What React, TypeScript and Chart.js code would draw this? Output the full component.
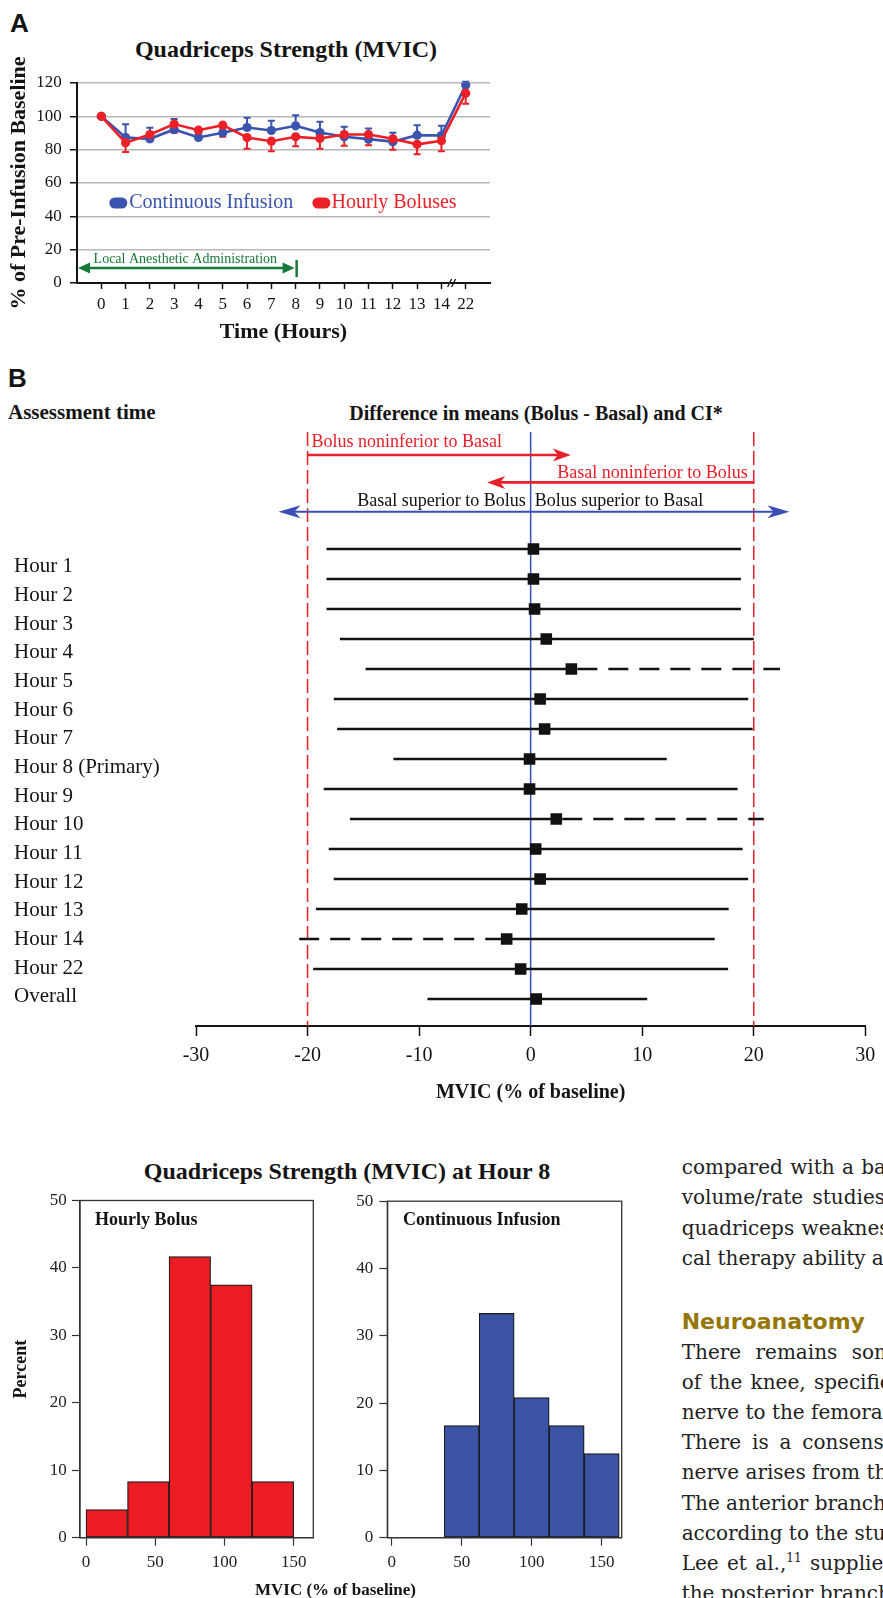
import React, { useEffect, useRef } from "react";
import { Chart, registerables } from "chart.js";

Chart.register(...registerables);

const SERIF = '"Liberation Serif", "Times New Roman", Times, serif';
const SANS = '"Liberation Sans", Arial, Helvetica, sans-serif';
const BODY_SERIF = '"DejaVu Serif", Georgia, serif';

const BLUE = "#3a53ad";
const RED = "#ec2127";
const GREEN = "#17783a";
const INK = "#141414";

// ---------- Panel A : Quadriceps Strength (MVIC) over time ----------
const hourLabels = ["0", "1", "2", "3", "4", "5", "6", "7", "8", "9", "10", "11", "12", "13", "14", "22"];
const continuousMean = [100, 87.3, 86.5, 92.1, 87.3, 90.1, 93.3, 91.5, 94.3, 90.3, 87.7, 86.3, 84.8, 88.7, 88.5, 118.8];
const continuousErr = [0, 7.9, 6.6, 6.3, 2.5, 3, 5.9, 5.9, 6.3, 6.5, 6, 6.4, 5.3, 6, 5.8, 2];
const bolusMean = [100, 84.2, 89.1, 95.4, 91.7, 94.7, 87.3, 85.1, 87.7, 86.7, 89.1, 89.1, 86.5, 83.2, 85.3, 113.9];
const bolusErr = [0, 5.6, 4, 5.3, 5, 7, 6.7, 6.1, 5.7, 6.1, 6.7, 6.5, 6.5, 6, 6.3, 6.4];
const panelAYTicks = [0, 20, 40, 60, 80, 100, 120];

// ---------- Panel B : forest plot ----------
const assessmentLabels = [
  "Hour 1", "Hour 2", "Hour 3", "Hour 4", "Hour 5", "Hour 6", "Hour 7", "Hour 8 (Primary)",
  "Hour 9", "Hour 10", "Hour 11", "Hour 12", "Hour 13", "Hour 14", "Hour 22", "Overall",
];
const diffEstimate = [0.25, 0.25, 0.35, 1.4, 3.65, 0.85, 1.25, -0.1, -0.1, 2.3, 0.45, 0.85, -0.8, -2.15, -0.9, 0.5];
const ciLower = [-18.3, -18.3, -18.3, -17.1, -14.8, -17.65, -17.35, -12.3, -18.55, -16.2, -18.1, -17.65, -19.25, -20.75, -19.5, -9.25];
const ciUpper = [18.85, 18.85, 18.85, 20, 22.35, 19.5, 19.9, 12.2, 18.55, 20.9, 19, 19.5, 17.75, 16.5, 17.7, 10.45];
const dashedSegment = ["", "", "", "", "upper", "", "", "", "", "upper", "", "", "", "lower", "", ""];
const marginLimits = [-20, 20];
const forestTicks = [-30, -20, -10, 0, 10, 20, 30];

// ---------- Histograms at hour 8 ----------
const bolusBinCenters = [15, 45, 75, 105, 135];
const bolusPercent = [4.17, 8.33, 41.67, 37.5, 8.33];
const infusionBinCenters = [50, 75, 100, 125, 150];
const infusionPercent = [16.67, 33.33, 20.83, 16.67, 12.5];
const histXTicks = [0, 50, 100, 150];
const histYTicks = [0, 10, 20, 30, 40, 50];

// ---------- Body text ----------
const bodyBlock1 = ["compared with a baseline", "volume/rate studies", "quadriceps weakness", "cal therapy ability and"];
const bodyBlock2 = [
  "There remains some", "of the knee, specifically", "nerve to the femoral", "There is a consensus",
  "nerve arises from the", "The anterior branch", "according to the study", "Lee et al.,|11| supplies", "the posterior branch",
];

const offPlugins = { legend: { display: false }, tooltip: { enabled: false }, title: { display: false } };

function makePanelA(): any {
  const decor = {
    id: "panelADecor",
    beforeDatasetsDraw(chart: any) {
      const { ctx } = chart;
      const xs = chart.scales.x, ys = chart.scales.y;
      const sets = [
        { mean: continuousMean, err: continuousErr, dir: 1, color: BLUE },
        { mean: bolusMean, err: bolusErr, dir: -1, color: RED },
      ];
      ctx.save();
      sets.forEach((s) => {
        ctx.strokeStyle = s.color;
        ctx.lineWidth = 2;
        s.mean.forEach((m, i) => {
          if (!s.err[i]) return;
          const x = xs.getPixelForValue(i);
          const y0 = ys.getPixelForValue(m);
          const y1 = ys.getPixelForValue(m + s.dir * s.err[i]);
          ctx.beginPath();
          ctx.moveTo(x, y0);
          ctx.lineTo(x, y1);
          ctx.moveTo(x - 3.5, y1);
          ctx.lineTo(x + 3.5, y1);
          ctx.stroke();
        });
      });
      ctx.restore();
    },
    afterDraw(chart: any) {
      const { ctx } = chart;
      const xs = chart.scales.x, ys = chart.scales.y;
      const X = (v: number) => xs.getPixelForValue(v);
      const Y = (v: number) => ys.getPixelForValue(v);
      ctx.save();
      // legend
      const pill = (cx: number, cy: number, color: string) => {
        const w = 18, h = 11, r = 5.5;
        ctx.fillStyle = color;
        ctx.beginPath();
        ctx.moveTo(cx - w / 2 + r, cy - h / 2);
        ctx.lineTo(cx + w / 2 - r, cy - h / 2);
        ctx.arc(cx + w / 2 - r, cy, r, -Math.PI / 2, Math.PI / 2);
        ctx.lineTo(cx - w / 2 + r, cy + h / 2);
        ctx.arc(cx - w / 2 + r, cy, r, Math.PI / 2, (3 * Math.PI) / 2);
        ctx.closePath();
        ctx.fill();
      };
      const ly = Y(48);
      ctx.font = `20px ${SERIF}`;
      ctx.textBaseline = "middle";
      ctx.textAlign = "left";
      pill(X(0.7), ly, BLUE);
      ctx.fillStyle = BLUE;
      ctx.fillText("Continuous Infusion", X(1.15), ly);
      pill(X(9.06), ly, RED);
      ctx.fillStyle = RED;
      ctx.fillText("Hourly Boluses", X(9.48), ly);

      // local anesthetic administration arrow
      ctx.fillStyle = GREEN;
      ctx.strokeStyle = GREEN;
      ctx.font = `14px ${SERIF}`;
      ctx.textAlign = "center";
      ctx.fillText("Local Anesthetic Administration", X(3.46), Y(14.4));
      const ay = Y(9);
      const xl = X(-1) + 1, xr = X(8) - 1;
      ctx.lineWidth = 2.5;
      ctx.beginPath();
      ctx.moveTo(xl + 8, ay);
      ctx.lineTo(xr - 8, ay);
      ctx.stroke();
      const head = (x: number, d: number) => {
        ctx.beginPath();
        ctx.moveTo(x, ay);
        ctx.lineTo(x - d * 12, ay - 5.5);
        ctx.lineTo(x - d * 12, ay + 5.5);
        ctx.closePath();
        ctx.fill();
      };
      head(xl, -1);
      head(xr, 1);
      ctx.beginPath();
      ctx.moveTo(X(8) + 1, Y(3.6));
      ctx.lineTo(X(8) + 1, Y(13.8));
      ctx.stroke();

      // axis break
      const bx = X(14.46), by = Y(0);
      ctx.strokeStyle = INK;
      ctx.lineWidth = 1.3;
      ctx.beginPath();
      ctx.moveTo(bx - 5, by + 4);
      ctx.lineTo(bx - 1, by - 4);
      ctx.moveTo(bx - 1, by + 4);
      ctx.lineTo(bx + 3, by - 4);
      ctx.stroke();
      ctx.restore();
    },
  };
  const line = (data: number[], color: string, order: number, label: string) => ({
    label,
    data: data.map((y, i) => ({ x: i, y })),
    borderColor: color,
    backgroundColor: color,
    pointBackgroundColor: color,
    pointBorderColor: color,
    borderWidth: 2.6,
    pointRadius: 4.6,
    pointBorderWidth: 0,
    order,
  });
  return {
    type: "line",
    data: {
      datasets: [line(bolusMean, RED, 1, "Hourly Boluses"), line(continuousMean, BLUE, 2, "Continuous Infusion")],
    },
    options: {
      animation: false,
      responsive: false,
      devicePixelRatio: 1,
      layout: { padding: { top: 43, right: 10, left: 0, bottom: 0 } },
      plugins: offPlugins,
      scales: {
        x: {
          type: "linear",
          min: -1,
          max: 16,
          afterBuildTicks: (s: any) => {
            s.ticks = hourLabels.map((_, i) => ({ value: i }));
          },
          afterFit: (s: any) => {
            s.height = 67;
          },
          grid: { drawOnChartArea: false, tickLength: 6, tickColor: INK, tickWidth: 1.5 },
          border: { display: true, color: INK, width: 2 },
          ticks: {
            autoSkip: false,
            maxRotation: 0,
            padding: 5.8,
            color: INK,
            font: { family: SERIF, size: 17 },
            callback: (v: any) => hourLabels[v] ?? "",
          },
          title: {
            display: true,
            text: "Time (Hours)",
            color: INK,
            font: { family: SERIF, size: 22, weight: "bold" },
            padding: { top: 0, bottom: 4.8 },
          },
        },
        y: {
          min: 0,
          max: 120,
          afterBuildTicks: (s: any) => {
            s.ticks = panelAYTicks.map((v) => ({ value: v }));
          },
          afterFit: (s: any) => {
            s.width = 77;
          },
          grid: { color: "#b8b8b8", lineWidth: 1.5, tickLength: 7, tickColor: INK, tickWidth: 1.5 },
          border: { color: INK, width: 2 },
          ticks: { padding: 8.3, color: INK, font: { family: SERIF, size: 17 } },
          title: {
            display: true,
            text: "% of Pre-Infusion Baseline",
            color: INK,
            font: { family: SERIF, size: 22, weight: "bold" },
            padding: { top: 5.8, bottom: 0 },
          },
        },
      },
    },
    plugins: [decor],
  };
}

function makeForest(): any {
  const decor = {
    id: "forestDecor",
    beforeDatasetsDraw(chart: any) {
      const { ctx, chartArea: ca } = chart;
      const xs = chart.scales.x, ys = chart.scales.y;
      const X = (v: number) => xs.getPixelForValue(v);
      const Y = (v: number) => ys.getPixelForValue(v);
      ctx.save();
      // non-inferiority margins
      ctx.strokeStyle = "#e8202a";
      ctx.lineWidth = 1.5;
      ctx.setLineDash([14, 5]);
      marginLimits.forEach((m) => {
        ctx.beginPath();
        ctx.moveTo(X(m), ca.top);
        ctx.lineTo(X(m), ca.bottom);
        ctx.stroke();
      });
      ctx.setLineDash([]);
      // zero line
      ctx.strokeStyle = "#3a4fb5";
      ctx.lineWidth = 1.5;
      ctx.beginPath();
      ctx.moveTo(X(0), ca.top);
      ctx.lineTo(X(0), ca.bottom);
      ctx.stroke();

      // CI lines
      ctx.strokeStyle = "#111";
      ctx.lineWidth = 2.5;
      ciLower.forEach((lo, i) => {
        const y = Y(i + 1);
        const xl = X(lo), xu = X(ciUpper[i]), xe = X(diffEstimate[i]);
        const seg = (a: number, b: number, dashed: boolean) => {
          ctx.setLineDash(dashed ? [20, 11] : []);
          ctx.beginPath();
          ctx.moveTo(a, y);
          ctx.lineTo(b, y);
          ctx.stroke();
        };
        seg(xl, xe, dashedSegment[i] === "lower");
        seg(xe + (dashedSegment[i] === "upper" ? 6 : 0), xu, dashedSegment[i] === "upper");
      });
      ctx.setLineDash([]);

      // arrows
      const head = (x: number, y: number, d: number, len: number, half: number) => {
        ctx.beginPath();
        ctx.moveTo(x, y);
        ctx.lineTo(x - d * len, y - half);
        ctx.lineTo(x - d * len * 0.72, y);
        ctx.lineTo(x - d * len, y + half);
        ctx.closePath();
        ctx.fill();
      };
      // Bolus noninferior to Basal
      ctx.strokeStyle = "#e8202a";
      ctx.fillStyle = "#e8202a";
      ctx.lineWidth = 2.6;
      let y = Y(-2.133);
      ctx.beginPath();
      ctx.moveTo(X(-20), y);
      ctx.lineTo(X(3.6) - 10, y);
      ctx.stroke();
      head(X(3.6), y, 1, 18, 6.5);
      // Basal noninferior to Bolus
      y = Y(-1.22);
      ctx.beginPath();
      ctx.moveTo(X(20), y);
      ctx.lineTo(X(-3.9) + 10, y);
      ctx.stroke();
      head(X(-3.9), y, -1, 18, 6.5);
      // superiority double arrow
      ctx.strokeStyle = "#3a4fb5";
      ctx.fillStyle = "#3a4fb5";
      ctx.lineWidth = 2;
      y = Y(-0.243);
      ctx.beginPath();
      ctx.moveTo(X(-22.6) + 12, y);
      ctx.lineTo(X(23.2) - 12, y);
      ctx.stroke();
      head(X(-22.6), y, -1, 22, 6.5);
      head(X(23.2), y, 1, 22, 6.5);

      // texts
      ctx.font = `18px ${SERIF}`;
      ctx.textBaseline = "middle";
      ctx.fillStyle = "#e8202a";
      ctx.textAlign = "left";
      ctx.fillText("Bolus noninferior to Basal", X(-20) + 4, Y(-2.57));
      ctx.textAlign = "right";
      ctx.fillText("Basal noninferior to Bolus", X(20) - 6, Y(-1.54));
      ctx.fillStyle = "#111";
      ctx.fillText("Basal superior to Bolus", X(0) - 5, Y(-0.58));
      ctx.textAlign = "left";
      ctx.fillText("Bolus superior to Basal", X(0) + 4, Y(-0.58));
      ctx.restore();
    },
  };
  return {
    type: "scatter",
    data: {
      datasets: [
        {
          label: "Difference in means",
          data: diffEstimate.map((x, i) => ({ x, y: i + 1 })),
          pointStyle: "rect",
          pointRadius: 8.2,
          backgroundColor: "#111",
          borderColor: "#111",
          borderWidth: 0,
        },
      ],
    },
    options: {
      animation: false,
      responsive: false,
      devicePixelRatio: 1,
      layout: { padding: { left: 196, right: 11.3, top: 12, bottom: 0 } },
      plugins: offPlugins,
      scales: {
        x: {
          type: "linear",
          min: -30,
          max: 30,
          afterBuildTicks: (s: any) => {
            s.ticks = forestTicks.map((v) => ({ value: v }));
          },
          afterFit: (s: any) => {
            s.height = 84;
          },
          grid: { drawOnChartArea: false, tickLength: 10, tickColor: INK, tickWidth: 1.5 },
          border: { color: INK, width: 2 },
          ticks: {
            autoSkip: false,
            maxRotation: 0,
            padding: 7.7,
            color: INK,
            font: { family: SERIF, size: 20 },
            callback: (v: any) => String(v),
          },
          title: {
            display: true,
            text: "MVIC (% of baseline)",
            color: INK,
            font: { family: SERIF, size: 20, weight: "bold" },
            padding: { top: 0, bottom: 5 },
          },
        },
        y: { type: "linear", display: false, reverse: true, min: -2.9, max: 16.9 },
      },
    },
    plugins: [decor],
  };
}

function makeHist(
  centers: number[],
  values: number[],
  color: string,
  xMin: number,
  xMax: number,
  padRight: number,
  yWidth: number,
  yTickPad: number,
  showYTitle: boolean
): any {
  const frame = {
    id: "histFrame",
    afterDraw(chart: any) {
      const { ctx, chartArea: ca } = chart;
      ctx.save();
      ctx.strokeStyle = "#333";
      ctx.lineWidth = 1.3;
      ctx.strokeRect(ca.left, ca.top, ca.right - ca.left, ca.bottom - ca.top);
      ctx.restore();
    },
  };
  return {
    type: "bar",
    data: {
      datasets: [
        {
          label: "Percent",
          data: centers.map((x, i) => ({ x, y: values[i] })),
          backgroundColor: color,
          borderColor: "#1a1a1a",
          borderWidth: 1.2,
          borderSkipped: false,
          barPercentage: 1,
          categoryPercentage: 1,
        },
      ],
    },
    options: {
      animation: false,
      responsive: false,
      devicePixelRatio: 1,
      layout: { padding: { top: 15, right: padRight, left: 0, bottom: 0 } },
      plugins: offPlugins,
      scales: {
        x: {
          type: "linear",
          min: xMin,
          max: xMax,
          offset: false,
          afterBuildTicks: (s: any) => {
            s.ticks = histXTicks.map((v) => ({ value: v }));
          },
          afterFit: (s: any) => {
            s.height = 60.3;
          },
          grid: { offset: false, drawOnChartArea: false, tickLength: 8, tickColor: "#333", tickWidth: 1.2 },
          border: { color: "#333", width: 1.3 },
          ticks: { autoSkip: false, maxRotation: 0, padding: 7, color: "#222", font: { family: SERIF, size: 17 } },
        },
        y: {
          min: 0,
          max: 50,
          afterBuildTicks: (s: any) => {
            s.ticks = histYTicks.map((v) => ({ value: v }));
          },
          afterFit: (s: any) => {
            s.width = yWidth;
          },
          grid: { drawOnChartArea: false, tickLength: 8, tickColor: "#333", tickWidth: 1.2 },
          border: { color: "#333", width: 1.3 },
          ticks: { padding: yTickPad, color: "#222", font: { family: SERIF, size: 17 } },
          title: {
            display: showYTitle,
            text: "Percent",
            color: INK,
            font: { family: SERIF, size: 18, weight: "bold" },
            padding: { top: 11, bottom: 0 },
          },
        },
      },
    },
    plugins: [frame],
  };
}

const makeHistBolus = () => makeHist(bolusBinCenters, bolusPercent, "#ec1c24", -4.34, 164.2, 6.7, 80, 5.3, true);
const makeHistInfusion = () => makeHist(infusionBinCenters, infusionPercent, "#3a53a4", -3.14, 164.3, 18.3, 67.3, 6, false);

function ChartCanvas(props: { left: number; top: number; width: number; height: number; make: () => any }) {
  const ref = useRef<HTMLCanvasElement | null>(null);
  const { left, top, width, height, make } = props;
  useEffect(() => {
    const chart = new Chart(ref.current as HTMLCanvasElement, make());
    return () => chart.destroy();
  }, [make]);
  return (
    <canvas
      ref={ref}
      width={width}
      height={height}
      style={{ position: "absolute", left, top, width, height, display: "block" }}
    />
  );
}

function Txt(props: {
  x: number;
  y: number;
  size: number;
  bold?: boolean;
  color?: string;
  family?: string;
  align?: "left" | "center" | "right";
  style?: any;
  children: any;
}) {
  const { x, y, size, bold, color, family, align, style, children } = props;
  const lh = size * 1.2;
  const st: any = {
    position: "absolute",
    top: y - lh / 2,
    fontSize: size,
    lineHeight: lh + "px",
    fontFamily: family || SERIF,
    fontWeight: bold ? "bold" : "normal",
    color: color || INK,
    whiteSpace: "nowrap",
    ...(style || {}),
  };
  if (align === "center") {
    st.left = x;
    st.transform = "translateX(-50%)";
  } else if (align === "right") {
    st.right = 883 - x;
  } else {
    st.left = x;
  }
  return <div style={st}>{children}</div>;
}

function BodyLine({ text, y, ws }: { text: string; y: number; ws: number }) {
  const parts = text.split("|");
  return (
    <Txt x={681.7} y={y} size={20} color="#222" family={BODY_SERIF} style={{ wordSpacing: ws }}>
      {parts.length === 3 ? (
        <>
          {parts[0]}
          <sup style={{ fontSize: 12, lineHeight: 0 }}>{parts[1]}</sup>
          {parts[2]}
        </>
      ) : (
        text
      )}
    </Txt>
  );
}

export default function App() {
  const block1Spacing = [1, 3, 1, 0];
  const block2Spacing = [8, 2, 0, 4.5, 0, 0, 0, 2, 0];
  return (
    <div
      style={{
        position: "absolute",
        left: 0,
        top: 0,
        width: 883,
        height: 1598,
        overflow: "hidden",
        background: "#fff",
      }}
    >
      {/* Panel A */}
      <Txt x={10} y={24} size={26} bold family={SANS}>A</Txt>
      <Txt x={286} y={49} size={24} bold align="center">Quadriceps Strength (MVIC)</Txt>
      <ChartCanvas left={0} top={40} width={500} height={310} make={makePanelA} />

      {/* Panel B */}
      <Txt x={8} y={379} size={26} bold family={SANS}>B</Txt>
      <Txt x={8} y={413} size={21} bold>Assessment time</Txt>
      <Txt x={536} y={413} size={20} bold align="center">Difference in means (Bolus - Basal) and CI*</Txt>
      <ChartCanvas left={0} top={420} width={883} height={690} make={makeForest} />
      {assessmentLabels.map((lab, i) => (
        <Txt key={lab} x={14} y={566 + i * 28.67} size={21}>{lab}</Txt>
      ))}

      {/* Histograms */}
      <Txt x={347} y={1171} size={24} bold align="center">Quadriceps Strength (MVIC) at Hour 8</Txt>
      <ChartCanvas left={0} top={1185} width={320} height={413} make={makeHistBolus} />
      <ChartCanvas left={320} top={1185} width={320} height={413} make={makeHistInfusion} />
      <Txt x={95} y={1220} size={18} bold>Hourly Bolus</Txt>
      <Txt x={403} y={1220} size={18} bold>Continuous Infusion</Txt>
      <Txt x={335.5} y={1590} size={17} bold align="center">MVIC (% of baseline)</Txt>

      {/* Body text */}
      {bodyBlock1.map((t, i) => (
        <BodyLine key={t} text={t} y={1166.5 + i * 30.6} ws={block1Spacing[i]} />
      ))}
      <Txt x={681.7} y={1321.7} size={22} bold family={'"DejaVu Sans", Arial, sans-serif'} color="#957608">
        Neuroanatomy
      </Txt>
      {bodyBlock2.map((t, i) => (
        <BodyLine key={t} text={t} y={1351.6 + i * 30.2} ws={block2Spacing[i]} />
      ))}
    </div>
  );
}
